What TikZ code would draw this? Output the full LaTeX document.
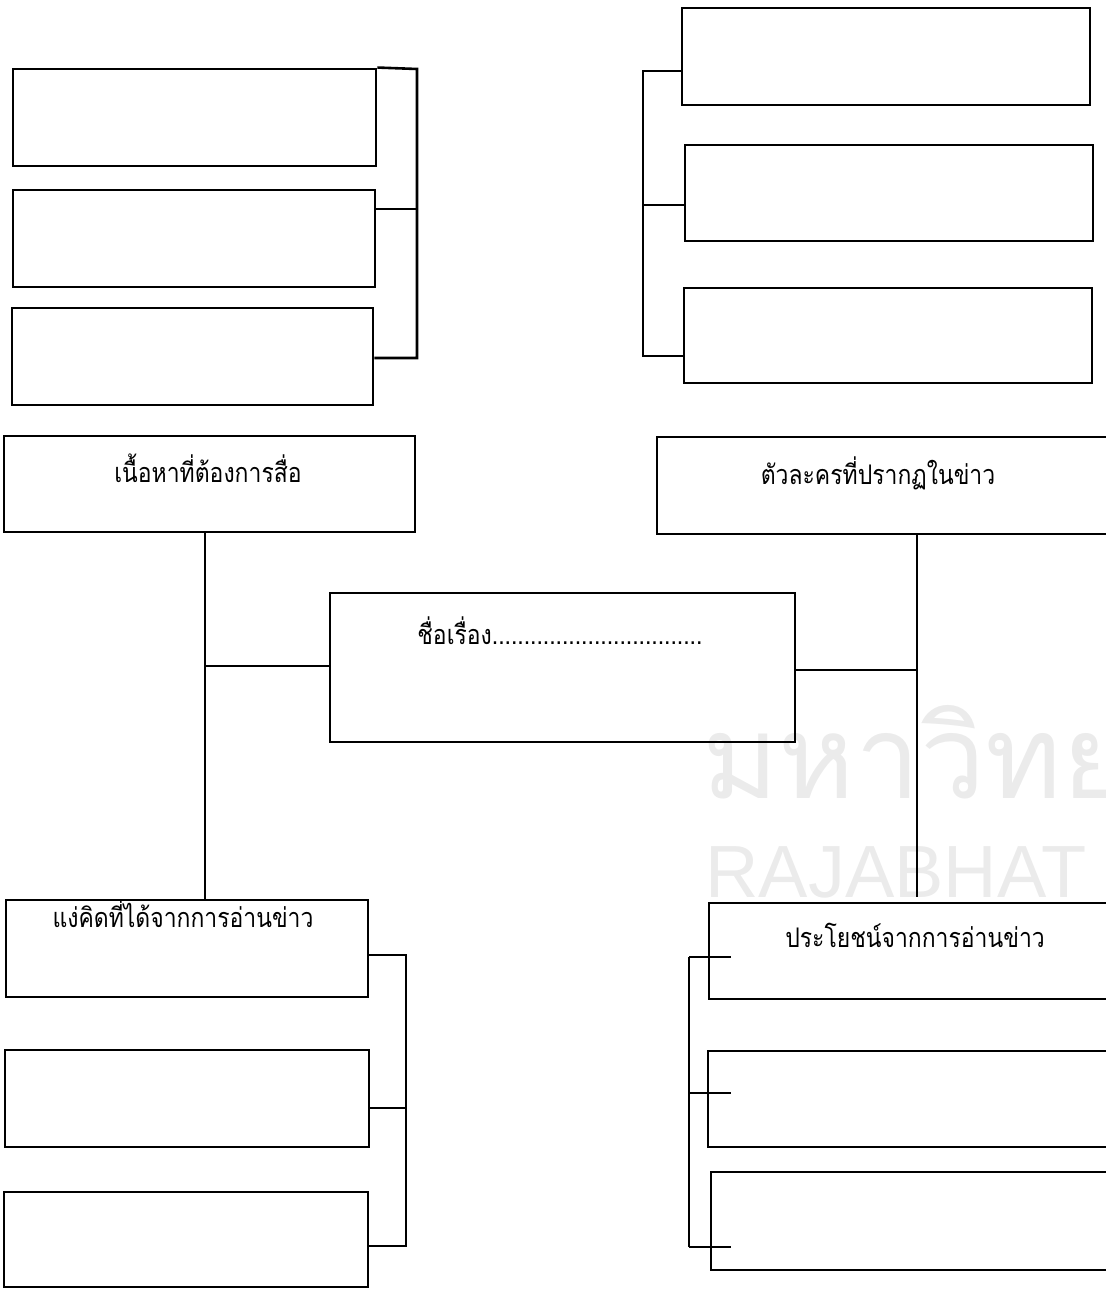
\documentclass[tikz,border=0pt]{standalone}
\usepackage{fontspec}
\setmainfont{Liberation Sans}
\newfontfamily\thaifont[Script=Thai, FakeStretch=0.85]{Loma}
\newfontfamily\thaimark[Script=Thai]{Loma}
\usetikzlibrary{fit}

\begin{document}
\begin{tikzpicture}
[
	x=0.5pt, y=-0.5pt,
	panel/.style={draw, line width=1.45pt, inner sep=0pt},
	wire/.style={line width=1.3pt},
	caption/.style={font=\thaifont\fontsize{13.5}{16}\selectfont, inner sep=0pt},
	watermark/.style={text=black!8, inner sep=0pt, anchor=west}
]
	\useasboundingbox (0,0) rectangle (1106,1289);
	\clip (0,0) rectangle (1106,1289);

	% watermark
	\node[watermark, font=\thaimark\fontsize{58}{58}\selectfont] (wmth) at (702,752) {มหาวิทยาลัย};
	\node[watermark, font=\fontsize{37}{37}\selectfont] (wmen) at (705,872) {RAJABHAT UNIVERSITY};

	% upper left group
	\node[panel, fit={(13,69) (376,166)}] (ul1) {};
	\node[panel, fit={(13,190) (375,287)}] (ul2) {};
	\node[panel, fit={(12,308) (373,405)}] (ul3) {};
	\coordinate (ulb1) at (417,69);
	\coordinate (ulb2) at (417,209);
	\coordinate (ulb3) at (417,358);
	\draw[wire] (ul1.north east) -- (ulb1) -- (ulb3) -- (ulb3 -| ul3.east);
	\draw[wire] (ulb2) -- (ulb2 -| ul2.east);

	% upper right group
	\node[panel, fit={(682,8) (1090,105)}] (ur1) {};
	\node[panel, fit={(685,145) (1093,241)}] (ur2) {};
	\node[panel, fit={(684,288) (1092,383)}] (ur3) {};
	\coordinate (urb1) at (643,71);
	\coordinate (urb2) at (643,205);
	\coordinate (urb3) at (643,356);
	\draw[wire] (urb1 -| ur1.west) -- (urb1) -- (urb3) -- (urb3 -| ur3.west);
	\draw[wire] (urb2) -- (urb2 -| ur2.west);

	% middle row
	\node[panel, fit={(4,436) (415,532)}] (ml) {};
	\node[caption] (mltext) at (208,468) {เนื้อหาที่ต้องการสื่อ};
	\node[panel, fit={(657,437) (1120,534)}] (mr) {};
	\node[caption] (mrtext) at (878,473) {ตัวละครที่ปรากฏในข่าว};

	\node[panel, fit={(330,593) (795,742)}] (title) {};
	\node[caption, anchor=west] (titletext) at (417,631) {ชื่อเรื่อง.................................};

	% lower left group
	\node[panel, fit={(6,900) (368,997)}] (ll1) {};
	\node[caption] (ll1text) at (183,914) {แง่คิดที่ได้จากการอ่านข่าว};
	\node[panel, fit={(5,1050) (369,1147)}] (ll2) {};
	\node[panel, fit={(4,1192) (368,1287)}] (ll3) {};
	\coordinate (llb1) at (406,955);
	\coordinate (llb2) at (406,1108);
	\coordinate (llb3) at (406,1246);
	\draw[wire] (llb1 -| ll1.east) -- (llb1) -- (llb3) -- (llb3 -| ll3.east);
	\draw[wire] (llb2) -- (llb2 -| ll2.east);

	% lower right group
	\node[panel, fit={(709,903) (1120,999)}] (lr1) {};
	\node[caption] (lr1text) at (915,935) {ประโยชน์จากการอ่านข่าว};
	\node[panel, fit={(708,1051) (1120,1147)}] (lr2) {};
	\node[panel, fit={(711,1172) (1120,1270)}] (lr3) {};
	\coordinate (lrb1) at (689,957);
	\coordinate (lrb2) at (689,1093);
	\coordinate (lrb3) at (689,1247);
	\draw[wire] (lrb1) -- (lrb3);
	\foreach \t in {lrb1,lrb2,lrb3}
		\draw[wire] (\t) -- ++(42,0);

	% links to the title
	\coordinate (lj) at (205,666);
	\coordinate (rj) at (917,670);
	\coordinate (rjend) at (917,897);
	\draw[wire] (ml.south -| lj) -- (ll1.north -| lj);
	\draw[wire] (lj) -- (lj -| title.west);
	\draw[wire] (mr.south -| rj) -- (rjend);
	\draw[wire] (title.east |- rj) -- (rj);

\end{tikzpicture}
\end{document}
